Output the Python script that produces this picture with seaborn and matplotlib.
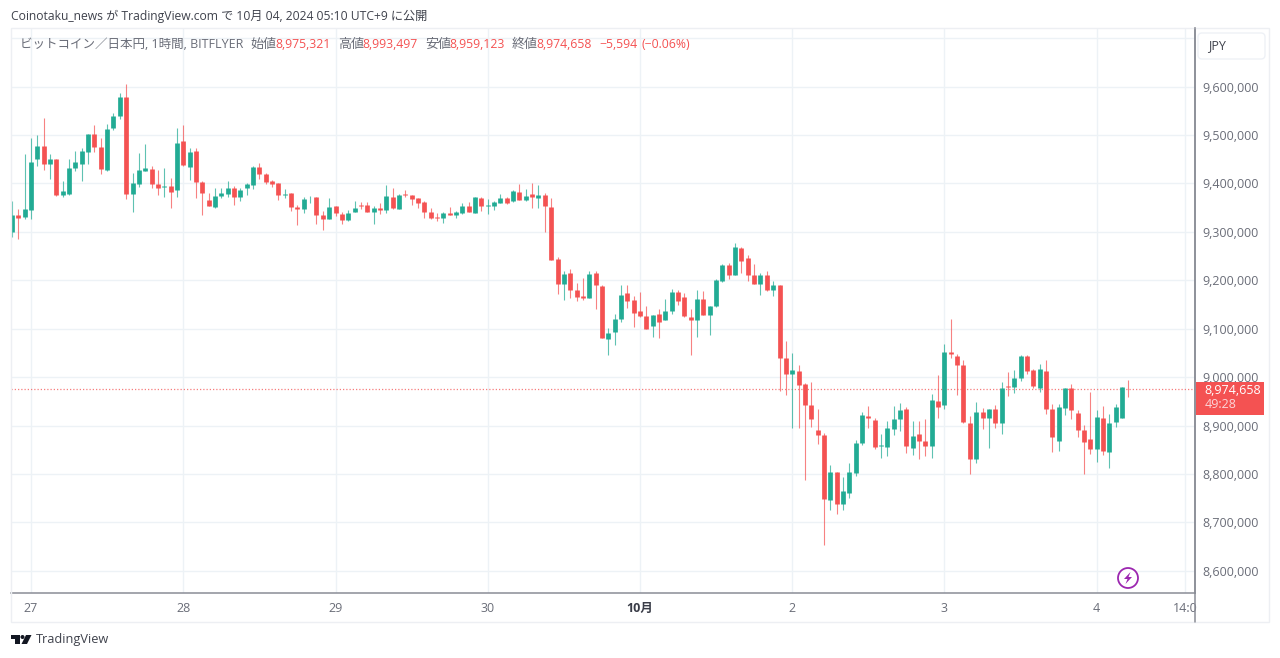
import matplotlib
matplotlib.use("Agg")
import matplotlib.pyplot as plt
from matplotlib.patches import Rectangle, FancyBboxPatch, Circle, Polygon
import pandas as pd
import seaborn as sns

# prices in thousand yen, one per hourly candle, 2024-09-26 21:00 JST onward
opens = [9299,9335,9330,9346,9450,9478,9440,9451,9376,9378,9431,9441,9465,9503,9476,9428,9515,9539,9578,9379,
         9399,9425,9430,9399,9392,9394,9387,9487,9433,9467,9403,9366,9352,9374,9379,9391,9371,9390,9397,9434,
         9420,9405,9400,9376,9381,9351,9347,9371,9372,9335,9326,9353,9337,9324,9341,9356,9355,9341,9350,9345,
         9372,9348,9378,9376,9369,9361,9341,9330,9328,9338,9335,9338,9353,9339,9370,9353,9354,9360,9370,9363,
         9382,9366,9379,9369,9377,9351,9244,9192,9215,9180,9167,9163,9216,9189,9079,9094,9120,9173,9159,9136,
         9127,9105,9130,9118,9136,9175,9165,9125,9117,9162,9129,9146,9199,9231,9211,9266,9247,9211,9193,9211,
         9180,9190,9039,9006,9012,8986,8943,8890,8880,8747,8805,8737,8761,8802,8864,8919,8912,8858,8856,8893,
         8913,8935,8854,8882,8869,8858,8950,8942,9052,9043,9026,8905,8830,8928,8915,8935,8905,8982,8980,8999,
         9044,9015,8978,9012,8935,8869,8937,8977,8926,8891,8873,8852,8916,8846,8908,8915,8975.321]
highs = [9364,9347,9460,9494,9500,9535,9460,9451,9406,9450,9467,9474,9503,9520,9493,9522,9545,9586,9606,9421,
         9463,9482,9435,9427,9432,9412,9514,9521,9473,9474,9406,9380,9391,9390,9406,9394,9391,9401,9435,9443,
         9421,9408,9401,9388,9381,9355,9371,9374,9372,9343,9369,9353,9341,9346,9363,9361,9362,9354,9359,9396,
         9391,9378,9386,9376,9370,9363,9350,9338,9341,9352,9343,9359,9362,9373,9371,9368,9364,9379,9371,9386,
         9399,9388,9400,9396,9381,9369,9248,9220,9223,9194,9205,9220,9220,9191,9101,9130,9191,9190,9168,9175,
         9147,9129,9140,9161,9183,9180,9173,9140,9179,9177,9147,9202,9233,9235,9278,9268,9252,9233,9216,9220,
         9199,9191,9074,9050,9026,8987,8989,8934,8884,8818,8805,8793,8822,8870,8929,8940,8915,8882,8909,8940,
         8946,8938,8909,8909,8913,8966,9005,9068,9120,9048,9035,8919,8948,8936,8935,8942,8989,9010,9015,9045,
         9046,9017,9027,9036,8945,8944,8977,8986,8933,8901,8970,8933,8940,8923,8944,8979,8993.497]
lows = [9289,9286,9326,9326,9436,9428,9410,9375,9371,9377,9426,9406,9441,9464,9420,9426,9511,9534,9368,9342,
        9392,9425,9390,9376,9372,9350,9371,9436,9407,9370,9335,9353,9350,9370,9371,9355,9364,9376,9388,9409,
        9399,9393,9366,9370,9344,9314,9339,9359,9317,9304,9326,9332,9316,9323,9341,9348,9340,9316,9337,9339,
        9347,9348,9371,9355,9350,9329,9326,9323,9319,9335,9328,9337,9341,9339,9343,9337,9346,9359,9357,9362,
        9365,9364,9350,9350,9300,9242,9172,9160,9163,9158,9160,9163,9140,9080,9046,9067,9114,9143,9103,9125,
        9099,9083,9081,9117,9131,9149,9125,9046,9083,9128,9087,9145,9197,9202,9210,9216,9199,9192,9170,9177,
        9168,8971,8963,8894,8894,8788,8897,8862,8654,8726,8717,8726,8750,8795,8860,8894,8851,8833,8838,8880,
        8889,8843,8840,8831,8838,8833,8915,8934,9040,8963,8906,8800,8822,8893,8853,8894,8882,8960,8968,8991,
        9006,8977,8970,8923,8846,8847,8922,8913,8877,8800,8842,8825,8840,8812,8896,8915,8959.123]
closes = [9335,9328,9348,9445,9478,9440,9451,9376,9384,9432,9445,9466,9503,9476,9430,9513,9540,9578,9379,9401,
          9427,9431,9399,9391,9394,9383,9483,9438,9465,9402,9381,9354,9374,9380,9391,9371,9386,9398,9434,9419,
          9403,9399,9376,9379,9352,9348,9367,9372,9335,9326,9351,9339,9324,9339,9350,9354,9341,9350,9346,9374,
          9350,9377,9376,9367,9359,9340,9328,9328,9338,9335,9340,9353,9341,9372,9354,9355,9362,9369,9359,9385,
          9366,9375,9372,9377,9354,9242,9192,9214,9180,9165,9163,9214,9191,9080,9092,9121,9169,9158,9132,9127,
          9100,9129,9114,9137,9175,9158,9127,9117,9162,9129,9146,9200,9231,9211,9268,9239,9210,9193,9211,9180,
          9190,9039,9006,9014,8984,8942,8913,8880,8748,8805,8737,8764,8805,8864,8922,8915,8856,8860,8894,8914,
          8933,8857,8878,8869,8858,8953,8939,9051,9047,9025,8907,8830,8928,8915,8935,8905,8977,8980,8999,9044,
          9013,8982,9017,8934,8877,8938,8977,8933,8891,8867,8852,8918,8848,8905,8938,8979,8974.658]

day_positions = [3, 27, 51, 75, 99, 123, 147, 171, 185]
day_labels = ["27", "28", "29", "30", "10月", "2", "3", "4", "14:0"]
price_ticks = [8600, 8700, 8800, 8900, 9000, 9100, 9200, 9300, 9400, 9500, 9600, 9700]
last_close = closes[-1]

UP, DOWN = "#22AB94", "#F45252"
GRID = "#EDF2F6"
AXIS = "#8A8D96"
TEXT = "#6A6D78"
FONT = ["Open Sans", "Noto Sans CJK JP", "DejaVu Sans"]

sns.set_theme(style="white", rc={"axes.grid": False})
plt.rcParams["font.family"] = FONT

df = pd.DataFrame({"i": range(len(opens)), "o": opens, "h": highs, "l": lows, "c": closes})
df["dir"] = ["up" if c >= o else "down" for o, c in zip(df.o, df.c)]
wicks = df.melt(id_vars=["i", "dir"], value_vars=["h", "l"], value_name="price")
bodies = df.melt(id_vars=["i", "dir"], value_vars=["o", "c"], value_name="price")
wicks["price"] *= 1000
bodies["price"] *= 1000
palette = {"up": UP, "down": DOWN}

W, H = 1280, 658
fig = plt.figure(figsize=(W / 100, H / 100), dpi=100, facecolor="white")
ax = fig.add_axes([11 / W, (H - 593) / H, (1195 - 11) / W, (593 - 28) / H])

ax.set_xticks(day_positions)
ax.set_xticklabels(day_labels)
ax.set_yticks([p * 1000 for p in price_ticks])
ax.set_yticklabels([f"{p * 1000:,}" if p < 9700 else "" for p in price_ticks])
ax.grid(True, color=GRID, lw=1.0, zorder=0)
ax.set_axisbelow(True)

sns.lineplot(data=wicks, x="i", y="price", units="i", estimator=None, hue="dir", palette=palette,
             lw=0.8, alpha=0.72, legend=False, ax=ax, zorder=2, solid_capstyle="butt")
sns.lineplot(data=bodies, x="i", y="price", units="i", estimator=None, hue="dir", palette=palette,
             lw=3.4, legend=False, ax=ax, zorder=3, solid_capstyle="butt")
ax.axhline(last_close * 1000, color=DOWN, lw=0.9, ls=(0, (1, 1.6)), alpha=0.75, zorder=1)

ax.set_xlim(-0.158, 186.5)
ax.set_ylim(8554200, 9721000)
ax.set_xlabel("")
ax.set_ylabel("")
ax.yaxis.tick_right()
ax.tick_params(axis="y", length=0, pad=5.6, labelsize=9, labelcolor=TEXT)
ax.tick_params(axis="x", length=0, pad=6.5, labelsize=9, labelcolor=TEXT)
for lab in ax.get_xticklabels():
    if lab.get_text() == "10月":
        lab.set_fontweight("bold")
        lab.set_color("#3A3D48")
for s in ("left", "top"):
    ax.spines[s].set_visible(False)
for s in ("right", "bottom"):
    ax.spines[s].set_color(AXIS)
    ax.spines[s].set_linewidth(1.1)

# overlay in pixel coordinates for the surrounding furniture
ov = fig.add_axes([0, 0, 1, 1], facecolor="none")
ov.set_xlim(0, W)
ov.set_ylim(H, 0)
ov.axis("off")

ov.add_patch(Rectangle((11, 28), 1258, 593.5, fill=False, ec="#EDEFF3", lw=1.0))
ov.plot([1195, 1195], [593, 621.5], color=AXIS, lw=1.1)
ov.plot([1195, 1195], [28, 593], color=AXIS, lw=1.1)

ov.text(11, 16, "Coinotaku_news が TradingView.com で 10月 04, 2024 05:10 UTC+9 に公開",
        fontsize=8.75, color="#3F424C", va="center", ha="left")

y = 44.5
ov.text(20.5, y, "ビットコイン／日本円, 1時間, BITFLYER", fontsize=9.0, color=TEXT, va="center")
for xl, lab, xv, val in [(250, "始値", 275.3, "8,975,321"), (338, "高値", 362.3, "8,993,497"),
                         (425, "安値", 449.8, "8,959,123"), (512, "終値", 536.8, "8,974,658")]:
    ov.text(xl, y, lab, fontsize=9.4, color=TEXT, va="center")
    ov.text(xv, y, val, fontsize=8.8, color=DOWN, va="center")
ov.text(599, y, "−5,594", fontsize=8.8, color=DOWN, va="center")
ov.text(641.5, y, "(−0.06%)", fontsize=8.8, color=DOWN, va="center")

ov.add_patch(FancyBboxPatch((1200, 35), 63, 22, boxstyle="round,pad=2,rounding_size=4",
                            fc="white", ec="#EEF1F6", lw=1.0))
ov.text(1208, 45.5, "JPY", fontsize=9, color="#3F424C", va="center")

ov.add_patch(Rectangle((1195.5, 382), 68.5, 32.5, fc=DOWN, ec="none", zorder=5))
ov.text(1204.5, 390.5, f"{int(last_close * 1000):,}", fontsize=9, color="white", va="center", zorder=6)
ov.text(1204.5, 405, "49:28", fontsize=9, color="#FBD5D8", va="center", zorder=6)

purple = "#9C27B0"
ov.add_patch(Circle((1128, 578), 10, fc="white", ec=purple, lw=1.3, zorder=6))
ov.add_patch(Polygon([(1130.5, 572), (1124, 579), (1127.5, 579), (1125.5, 584), (1132, 577), (1128.5, 577)],
                     closed=True, fc=purple, ec="none", zorder=7))

dark = "#131722"
ov.add_patch(Polygon([(11, 635), (19.5, 635), (19.5, 644), (15, 644), (15, 639), (11, 639)], closed=True, fc=dark, ec="none"))
ov.add_patch(Circle((22.5, 637), 2, fc=dark, ec="none"))
ov.add_patch(Polygon([(26, 635), (31.5, 635), (27, 644), (21.5, 644)], closed=True, fc=dark, ec="none"))
ov.text(35.5, 640, "TradingView", fontsize=9.2, color="#3F424C", va="center")

fig.savefig("out.png", dpi=100, facecolor="white")
